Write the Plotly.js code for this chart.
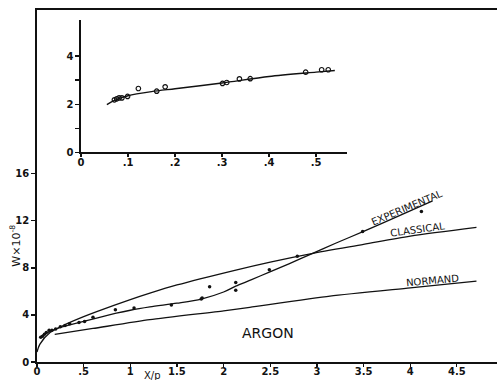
<!DOCTYPE html>
<html>
<head>
<meta charset="utf-8">
<script src="https://cdn.plot.ly/plotly-3.0.1.min.js"></script>
<style>html,body{margin:0;padding:0;background:#fff;}#chart{width:497px;height:380px;}</style>
</head>
<body>
<div id="chart"></div>
<script>
// ---- Main chart data (ARGON) ----
const classicalX = [0, 0.03, 0.14, 0.28, 0.5, 0.64, 1.0, 1.21, 1.5, 2.12, 2.5, 2.93, 3.5, 4.0, 4.71];
const classicalY = [0.85, 1.5, 2.5, 3.1, 3.85, 4.28, 5.3, 5.85, 6.55, 7.8, 8.5, 9.2, 10.0, 10.7, 11.44];

const experimentalX = [0.03, 0.1, 0.2, 0.3, 0.5, 0.65, 0.85, 1.0, 1.21, 1.5, 1.76, 2.0, 2.13, 2.3, 2.49, 2.7, 2.93, 3.2, 3.5, 3.8, 4.24];
const experimentalY = [2.1, 2.45, 2.8, 3.05, 3.45, 3.75, 4.15, 4.4, 4.68, 5.0, 5.35, 5.95, 6.45, 7.0, 7.65, 8.35, 9.15, 10.1, 11.1, 12.15, 13.7];

const normandX = [0.19, 0.6, 1.21, 2.0, 2.28, 3.14, 4.0, 4.71];
const normandY = [2.35, 2.85, 3.6, 4.35, 4.65, 5.6, 6.3, 6.87];

const pointsX = [0.04, 0.06, 0.08, 0.10, 0.13, 0.16, 0.2, 0.25, 0.3, 0.35, 0.45, 0.51, 0.6, 0.84, 1.04, 1.44, 1.76, 1.77, 1.85, 2.13, 2.13, 2.49, 2.79, 3.49, 4.12];
const pointsY = [2.1, 2.2, 2.35, 2.5, 2.7, 2.7, 2.8, 3.0, 3.1, 3.25, 3.35, 3.45, 3.8, 4.45, 4.6, 4.85, 5.35, 5.45, 6.4, 6.75, 6.1, 7.85, 9.0, 11.1, 12.8];

const mainXTicks = [0, 0.5, 1, 1.5, 2, 2.5, 3, 3.5, 4, 4.5];
const mainXLabels = ['0', '.5', '1', '1.5', '2', '2.5', '3', '3.5', '4', '4.5'];
const mainYTicks = [0, 4, 8, 12, 16];
const mainYLabels = ['0', '4', '8', '12', '16'];

// ---- Inset data ----
const insetPtsX = [0.071, 0.076, 0.081, 0.087, 0.099, 0.122, 0.161, 0.179, 0.301, 0.31, 0.337, 0.36, 0.478, 0.512, 0.526];
const insetPtsY = [2.18, 2.22, 2.26, 2.26, 2.32, 2.65, 2.54, 2.72, 2.86, 2.9, 3.05, 3.06, 3.33, 3.43, 3.43];
const insetCurveX = [0.055, 0.07, 0.1, 0.15, 0.2, 0.3, 0.4, 0.5, 0.54];
const insetCurveY = [1.98, 2.15, 2.35, 2.52, 2.64, 2.88, 3.15, 3.33, 3.4];

const insetXTicks = [0, 0.1, 0.2, 0.3, 0.4, 0.5];
const insetXLabels = ['0', '.1', '.2', '.3', '.4', '.5'];
const insetYTicks = [0, 2, 4];
const insetYLabels = ['0', '2', '4'];
const insetYMinor = [1, 3];

const ink = '#111';
const fontFam = 'DejaVu Sans, Liberation Sans, sans-serif';

const traces = [
  {x: classicalX, y: classicalY, mode: 'lines', line: {color: ink, width: 1.3, shape: 'spline', smoothing: 0.8}, hoverinfo: 'skip', name: 'Classical'},
  {x: experimentalX, y: experimentalY, mode: 'lines', line: {color: ink, width: 1.3, shape: 'spline', smoothing: 0.8}, hoverinfo: 'skip', name: 'Experimental'},
  {x: normandX, y: normandY, mode: 'lines', line: {color: ink, width: 1.3, shape: 'spline', smoothing: 0.6}, hoverinfo: 'skip', name: 'Normand'},
  {x: pointsX, y: pointsY, mode: 'markers', marker: {color: ink, size: 3.5}, hoverinfo: 'skip', name: 'Data'},
  {x: insetCurveX, y: insetCurveY, xaxis: 'x2', yaxis: 'y2', mode: 'lines', line: {color: ink, width: 1.4, shape: 'spline', smoothing: 0.8}, hoverinfo: 'skip', name: 'Inset curve'},
  {x: insetPtsX, y: insetPtsY, xaxis: 'x2', yaxis: 'y2', mode: 'markers', marker: {color: ink, size: 4.5, symbol: 'circle-open', line: {color: ink, width: 1.2}}, hoverinfo: 'skip', name: 'Inset data'}
];

const tickFont = {family: fontFam, size: 10, color: ink, weight: 'bold'};

const layout = {
  width: 497, height: 380,
  margin: {l: 37, r: 0, t: 10, b: 18, pad: 0},
  paper_bgcolor: '#fff', plot_bgcolor: '#fff',
  showlegend: false,
  font: {family: fontFam, color: ink},
  xaxis: {
    range: [0, 4.93], domain: [0, 1],
    showgrid: false, zeroline: false,
    showline: true, linecolor: ink, linewidth: 1.6, mirror: true,
    ticks: 'outside', ticklen: 3, tickwidth: 1.2, tickcolor: ink,
    ticklabelstandoff: -4,
    tickvals: mainXTicks, ticktext: mainXLabels, tickfont: tickFont,
    fixedrange: true
  },
  yaxis: {
    range: [0, 29.93], domain: [0, 1],
    showgrid: false, zeroline: false,
    showline: true, linecolor: ink, linewidth: 1.8,
    ticks: 'outside', ticklen: 4, tickwidth: 1.2, tickcolor: ink,
    tickvals: mainYTicks, ticktext: mainYLabels, tickfont: tickFont,
    fixedrange: true
  },
  xaxis2: {
    anchor: 'y2', domain: [0.0957, 0.674], range: [0, 0.566],
    showgrid: false, zeroline: false,
    showline: true, linecolor: ink, linewidth: 1.6,
    ticks: 'outside', ticklen: 3, tickwidth: 1.2, tickcolor: ink,
    ticklabelstandoff: -3,
    tickvals: insetXTicks, ticktext: insetXLabels, tickfont: tickFont,
    fixedrange: true
  },
  yaxis2: {
    anchor: 'x2', domain: [0.596, 0.9716], range: [0, 5.5],
    showgrid: false, zeroline: false,
    showline: true, linecolor: ink, linewidth: 1.6,
    ticks: 'outside', ticklen: 4, tickwidth: 1.2, tickcolor: ink,
    tickvals: insetYTicks, ticktext: insetYLabels, tickfont: tickFont,
    minor: {tickvals: insetYMinor, ticks: 'outside', ticklen: 4, tickwidth: 1.2, tickcolor: ink},
    fixedrange: true
  },
  annotations: [
    {text: 'ARGON', x: 2.48, y: 2.5, xref: 'x', yref: 'y', showarrow: false, font: {family: fontFam, size: 14, color: ink}},
    {text: 'EXPERIMENTAL', x: 3.97, y: 13.1, xref: 'x', yref: 'y', showarrow: false, textangle: -23, font: {family: fontFam, size: 10, color: ink}},
    {text: 'CLASSICAL', x: 4.08, y: 11.3, xref: 'x', yref: 'y', showarrow: false, textangle: -8, font: {family: fontFam, size: 10, color: ink}},
    {text: 'NORMAND', x: 4.24, y: 6.9, xref: 'x', yref: 'y', showarrow: false, textangle: -5, font: {family: fontFam, size: 10, color: ink}},
    {text: 'W×10<sup>-8</sup>', x: -0.046, y: 0.33, xref: 'paper', yref: 'paper', xanchor: 'center', yanchor: 'middle', showarrow: false, textangle: -90, font: {family: fontFam, size: 11, color: ink}},
    {text: 'X/p', x: 0.25, y: -0.038, xref: 'paper', yref: 'paper', xanchor: 'center', yanchor: 'middle', showarrow: false, font: {family: fontFam, size: 10, color: ink}}
  ]
};

Plotly.newPlot('chart', traces, layout, {displayModeBar: false, staticPlot: true});
</script>
</body>
</html>
